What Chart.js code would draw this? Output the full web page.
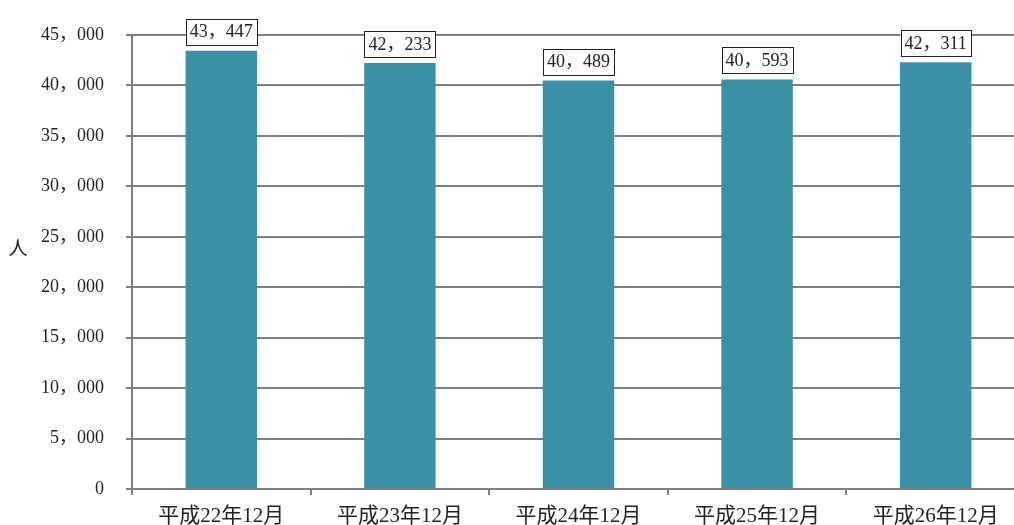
<!DOCTYPE html>
<html lang="ja">
<head>
<meta charset="utf-8">
<script src="https://cdn.jsdelivr.net/npm/chart.js@4.4.1/dist/chart.umd.min.js"></script>
<style>
  html, body { margin: 0; padding: 0; background: #fff; overflow: hidden; }
  #wrap { position: relative; width: 1025px; height: 525px; }
</style>
</head>
<body>
<div id="wrap"><canvas id="peopleChart"></canvas></div>
<script>
// 各年12月時点の人数
const categories = ['平成22年12月', '平成23年12月', '平成24年12月', '平成25年12月', '平成26年12月'];
const people = [43447, 42233, 40489, 40593, 42311];
const yTicks = [0, 5000, 10000, 15000, 20000, 25000, 30000, 35000, 40000, 45000];

const gridColor = '#7f7f7f';
const barColor = '#3990a7';
const fontFamily = '"Liberation Serif", "Noto Sans CJK JP", serif';

// 3桁区切りは全角カンマ
function fmt(v) {
    return Math.round(v).toString().replace(/\B(?=(\d{3})+(?!\d))/g, '，');
}

// 棒の上に枠付きの数値ラベルを描く
const boxLabels = {
    id: 'boxLabels',
    afterDatasetsDraw(chart) {
        const ctx = chart.ctx;
        const meta = chart.getDatasetMeta(0);
        ctx.save();
        ctx.font = '18px ' + fontFamily;
        ctx.textAlign = 'center';
        ctx.textBaseline = 'middle';
        meta.data.forEach((bar, i) => {
            const text = fmt(people[i]);
            const w = ctx.measureText(text).width + 8;
            const h = 26;
            const x = bar.x - w / 2;
            const y = bar.y - 6 - h;
            ctx.fillStyle = '#fff';
            ctx.fillRect(x, y, w, h);
            ctx.strokeStyle = '#222';
            ctx.lineWidth = 1;
            ctx.strokeRect(Math.round(x) + 0.5, Math.round(y) + 0.5, Math.round(w), h);
            ctx.fillStyle = '#222';
            ctx.fillText(text, bar.x, y + h / 2 + 1);
        });
        ctx.restore();
    }
};

// 縦軸の単位
const unitLabel = {
    id: 'unitLabel',
    afterDraw(chart) {
        const ctx = chart.ctx;
        ctx.save();
        ctx.font = '19px "Noto Sans CJK JP", sans-serif';
        ctx.fillStyle = '#222';
        ctx.textAlign = 'center';
        ctx.textBaseline = 'middle';
        ctx.fillText('人', 18, 248);
        ctx.restore();
    }
};

new Chart(document.getElementById('peopleChart'), {
    type: 'bar',
    data: {
        labels: categories,
        datasets: [{
            data: people,
            backgroundColor: barColor,
            borderWidth: 0,
            categoryPercentage: 1,
            barPercentage: 0.4
        }]
    },
    options: {
        responsive: true,
        maintainAspectRatio: false,
        animation: false,
        layout: { padding: { top: 35, left: 0, right: 0, bottom: 0 } },
        plugins: {
            legend: { display: false },
            tooltip: { enabled: false }
        },
        scales: {
            x: {
                afterFit(scale) { scale.height = 36; },
                grid: {
                    offset: true,
                    drawOnChartArea: false,
                    drawTicks: true,
                    tickLength: 6,
                    color: gridColor,
                    lineWidth: 2
                },
                border: { display: true, color: gridColor, width: 2 },
                ticks: {
                    color: '#222',
                    padding: 9,
                    maxRotation: 0,
                    font: { family: fontFamily, size: 21 }
                }
            },
            y: {
                min: 0,
                max: 45000,
                afterFit(scale) { scale.width = 132; },
                afterBuildTicks(scale) {
                    scale.ticks = yTicks.map(v => ({ value: v }));
                },
                grid: {
                    color: gridColor,
                    lineWidth: 2,
                    tickLength: 6
                },
                border: { display: true, color: gridColor, width: 2 },
                ticks: {
                    color: '#222',
                    padding: 22,
                    font: { family: fontFamily, size: 18 },
                    callback: v => fmt(v)
                }
            }
        }
    },
    plugins: [boxLabels, unitLabel]
});
</script>
</body>
</html>
